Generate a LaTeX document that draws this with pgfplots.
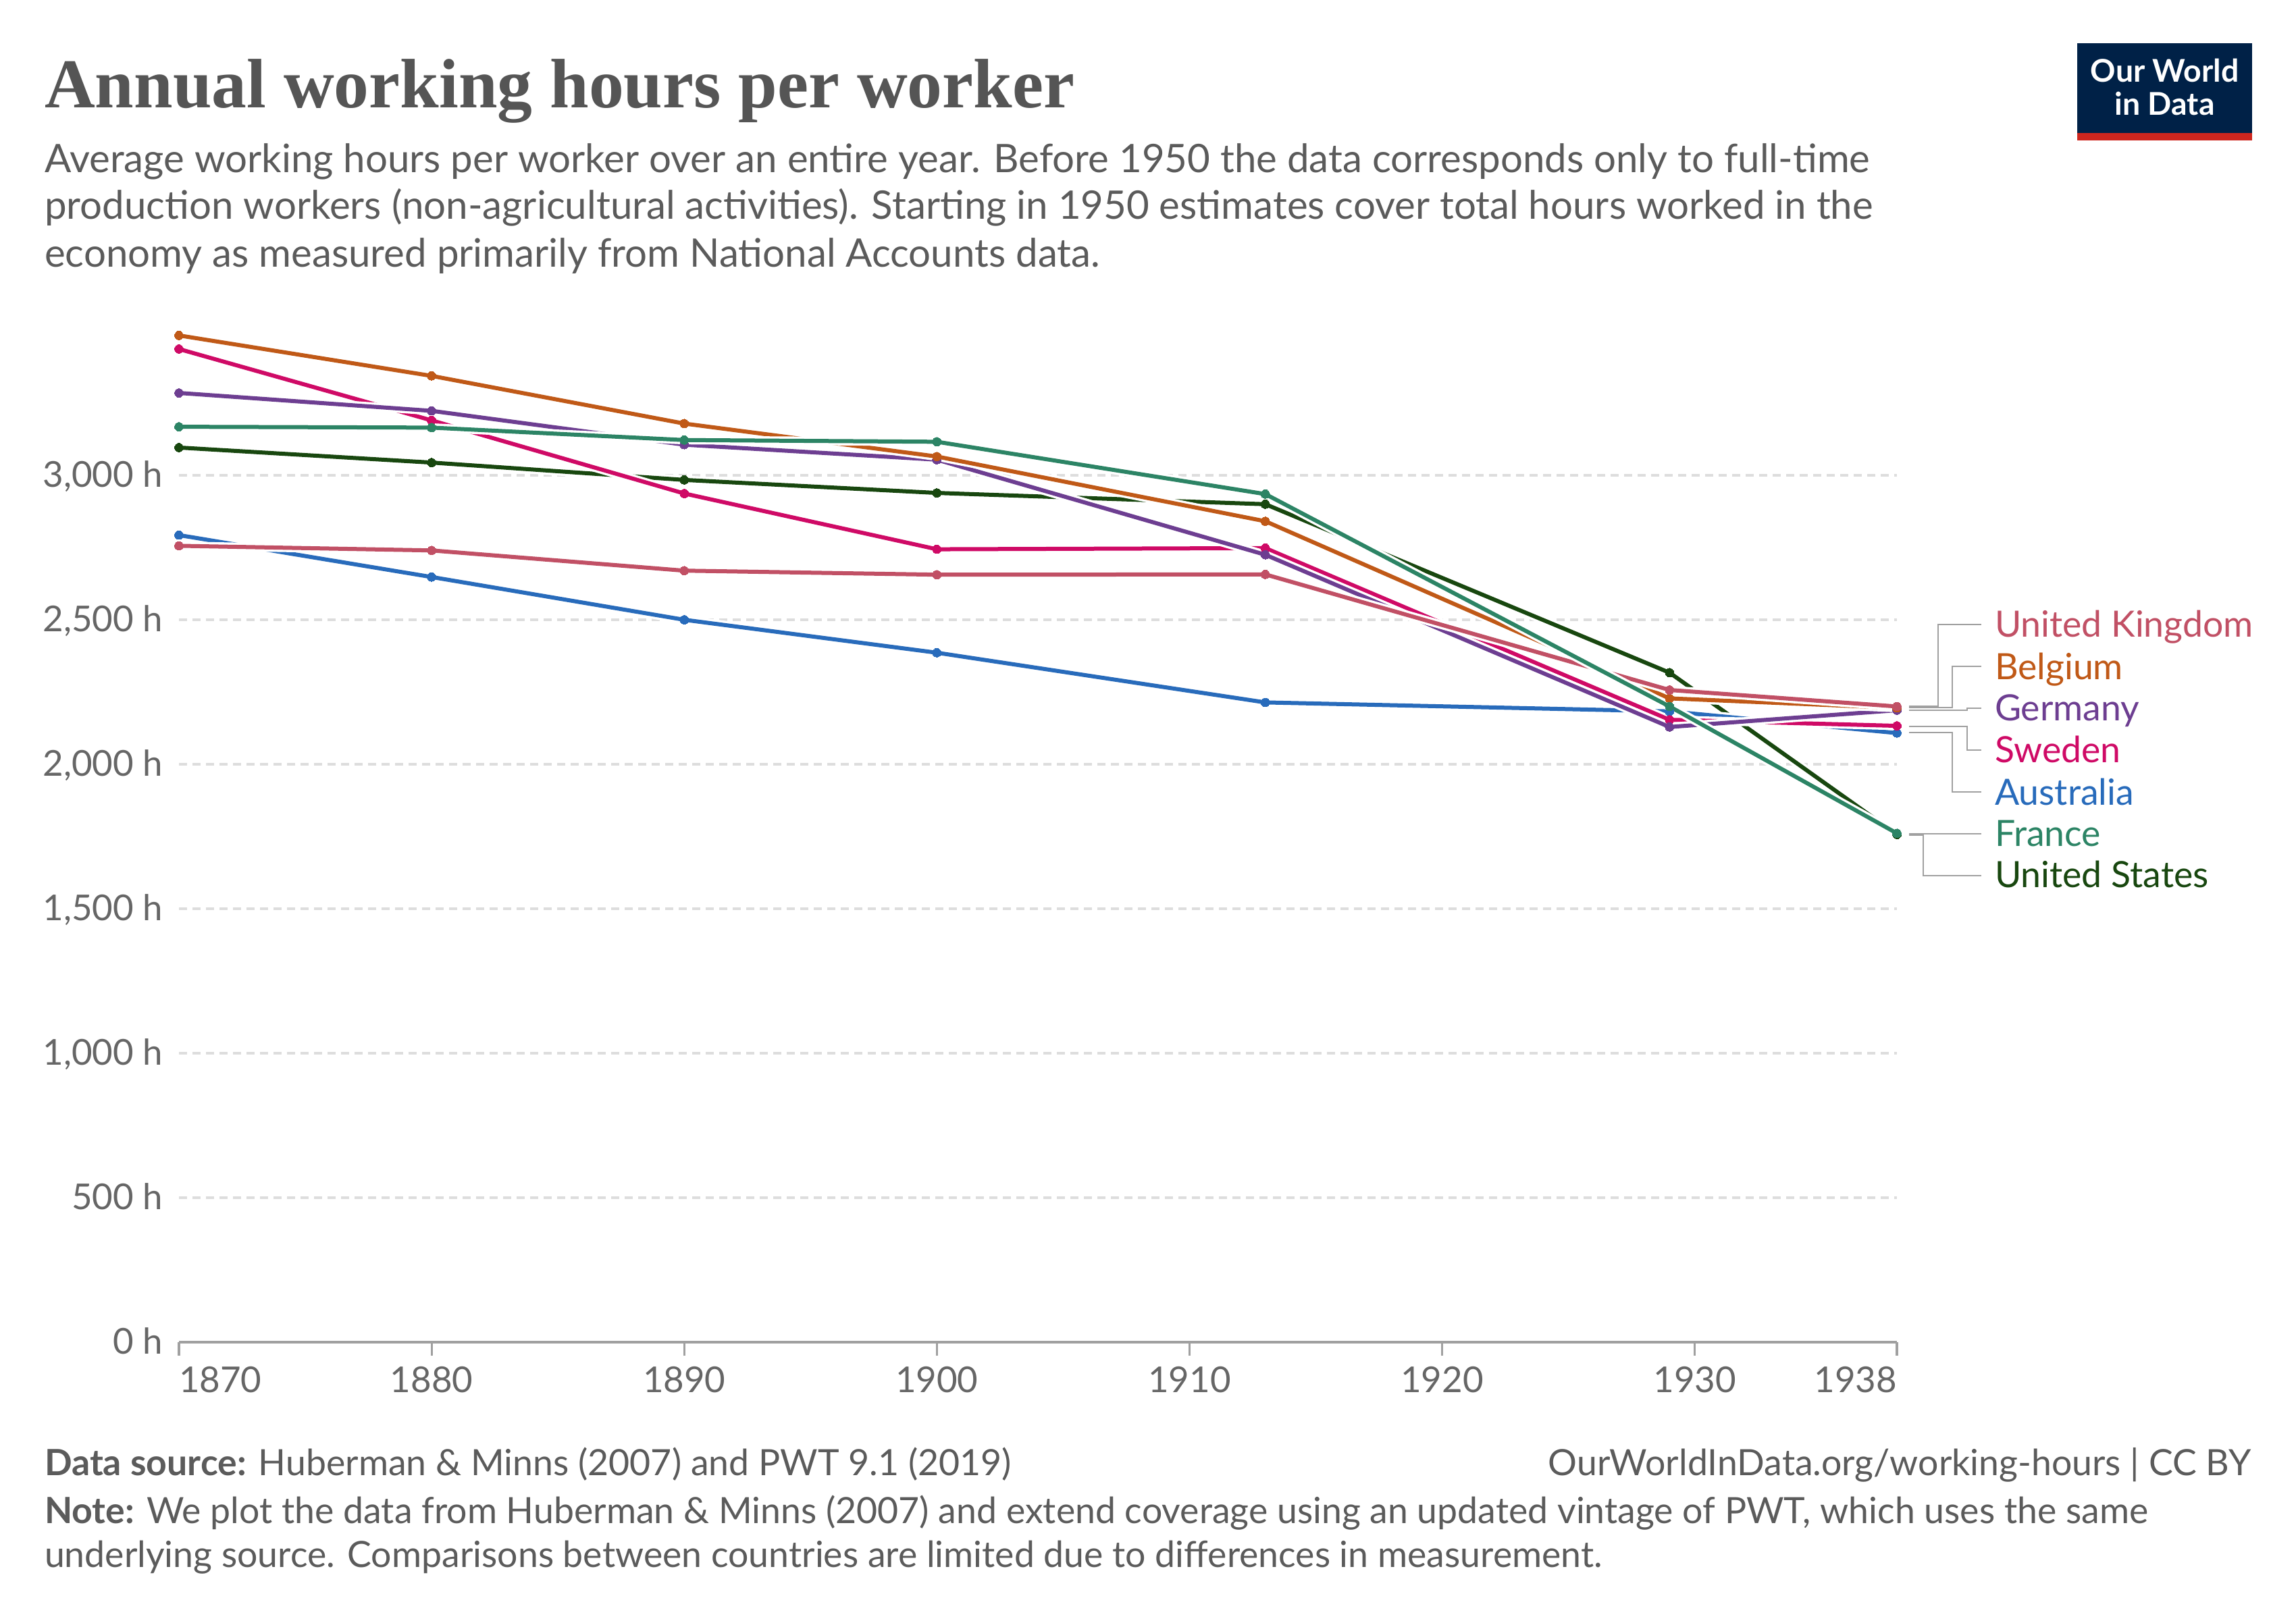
\documentclass[border=0pt]{standalone}
\usepackage{pgfplots}
\pgfplotsset{compat=1.18}
\usepackage{fontspec}
\setmainfont{Lato}
\newfontfamily\titlefont{Liberation Serif}
\definecolor{titlegray}{HTML}{555555}
\definecolor{subgray}{HTML}{5B5B5B}
\definecolor{tickgray}{HTML}{666666}
\definecolor{axisgray}{HTML}{A0A0A0}
\definecolor{gridgray}{HTML}{DDDDDD}
\definecolor{conngray}{HTML}{A0A0A0}
\definecolor{owidblue}{HTML}{002147}
\definecolor{owidred}{HTML}{CE261E}
\definecolor{ukcol}{HTML}{C15065}
\definecolor{becol}{HTML}{C05917}
\definecolor{decol}{HTML}{6D3E91}
\definecolor{secol}{HTML}{CF0A66}
\definecolor{aucol}{HTML}{286BBB}
\definecolor{frcol}{HTML}{2C8465}
\definecolor{uscol}{HTML}{18470F}
\pgfplotsset{
  series/.style={color=#1, line width=1.5pt, mark=*, mark size=1.6pt,
    mark options={solid, fill=#1, draw=#1, line width=0pt},
    preaction={draw=white, line width=3.2pt}},
}
\begin{document}
\begin{tikzpicture}[x=1pt,y=1pt]
\path[use as bounding box, fill=white] (0,0) rectangle (850,600);
% title
\node[anchor=base west, inner sep=0pt, text=titlegray, font=\titlefont\bfseries\fontsize{25.9}{30}\selectfont] at (16.3,560.2) {Annual working hours per worker};
% subtitle
\begin{scope}[every node/.style={anchor=base west, inner sep=0pt, text=subgray, font=\fontsize{14.55}{17.5}\selectfont}]
\node at (16.3,536.2) {Average working hours per worker over an entire year. Before 1950 the data corresponds only to full-time};
\node at (16.3,518.8) {production workers (non-agricultural activities). Starting in 1950 estimates cover total hours worked in the};
\node at (16.3,501.2) {economy as measured primarily from National Accounts data.};
\end{scope}
% logo
\fill[owidblue] (769,550.85) rectangle (833.75,584);
\fill[owidred] (769,548.1) rectangle (833.75,550.85);
\node[anchor=base, inner sep=0pt, text=white, font=\bfseries\fontsize{11.6}{13}\selectfont] at (801.4,569.6) {Our World};
\node[anchor=base, inner sep=0pt, text=white, font=\bfseries\fontsize{11.6}{13}\selectfont] at (801.4,557.3) {in Data};
% axis
\begin{axis}[
  at={(66.25pt,103pt)}, anchor=south west,
  scale only axis, width=636pt, height=374.5pt,
  xmin=1870, xmax=1938, ymin=0, ymax=3500,
  clip=false,
  axis line style={draw=none},
  tick align=outside, major tick length=5pt,
  xtick pos=bottom, ytick pos=left,
  xtick={1870,1880,1890,1900,1910,1920,1930,1938},
  xticklabels={\rlap{1870},1880,1890,1900,1910,1920,1930,\llap{1938}},
  ytick={0,500,1000,1500,2000,2500,3000},
  yticklabels={0 h,500 h,{1,000 h},{1,500 h},{2,000 h},{2,500 h},{3,000 h}},
  x tick style={draw=axisgray, line width=0.8pt},
  y tick style={draw=none},
  tick label style={font=\fontsize{13.2}{15}\selectfont, text=tickgray, inner sep=0pt},
  xticklabel style={anchor=base, yshift=-13.55pt},
  yticklabel style={anchor=base east, xshift=-0.75pt, yshift=-4.3pt},
  ymajorgrids, grid style={draw=gridgray, line width=0.8pt, dash pattern=on 3pt off 2pt},
]
\draw[axisgray, line width=0.8pt] (axis cs:1870,0) -- (axis cs:1938,0);
\addplot[series=uscol] coordinates {(1870,3096) (1880,3044) (1890,2984) (1900,2939) (1913,2900) (1929,2317) (1938,1757)};
\addplot[series=aucol] coordinates {(1870,2793) (1880,2648) (1890,2500) (1900,2386) (1913,2214) (1929,2183) (1938,2108)};
\addplot[series=secol] coordinates {(1870,3437) (1880,3190) (1890,2937) (1900,2744) (1913,2748) (1929,2154) (1938,2133)};
\addplot[series=decol] coordinates {(1870,3285) (1880,3223) (1890,3106) (1900,3054) (1913,2725) (1929,2129) (1938,2187)};
\addplot[series=becol] coordinates {(1870,3484) (1880,3344) (1890,3179) (1900,3065) (1913,2841) (1929,2228) (1938,2195)};
\addplot[series=ukcol] coordinates {(1870,2756) (1880,2740) (1890,2670) (1900,2656) (1913,2657) (1929,2257) (1938,2200)};
\addplot[series=frcol] coordinates {(1870,3168) (1880,3165) (1890,3122) (1900,3116) (1913,2935) (1929,2200) (1938,1761)};
\end{axis}
% connectors
\begin{scope}[conngray, line width=0.5pt]
\draw (706.7,338.6) -- (717.4,338.6) -- (717.4,368.75) -- (733.5,368.75);
\draw (706.7,338.1) -- (722.8,338.1) -- (722.8,353.25) -- (733.5,353.25);
\draw (706.7,337.1) -- (728.2,337.1) -- (728.2,337.75) -- (733.5,337.75);
\draw (706.7,331.0) -- (728.2,331.0) -- (728.2,322.3) -- (733.5,322.3);
\draw (706.7,328.75) -- (722.8,328.75) -- (722.8,306.7) -- (733.5,306.7);
\draw (706.7,291.2) -- (733.5,291.2);
\draw (706.7,290.8) -- (712,290.8) -- (712,275.8) -- (733.5,275.8);
\end{scope}
% series labels
\begin{scope}[every node/.style={anchor=base west, inner sep=0pt, font=\fontsize{13.4}{15}\selectfont}]
\node[text=ukcol] at (738.3,364) {United Kingdom};
\node[text=becol] at (738.3,348.3) {Belgium};
\node[text=decol] at (738.3,333.1) {Germany};
\node[text=secol] at (738.3,317.5) {Sweden};
\node[text=aucol] at (738.3,301.9) {Australia};
\node[text=frcol] at (738.3,286.5) {France};
\node[text=uscol] at (738.3,271.25) {United States};
\end{scope}
% footer
\begin{scope}[every node/.style={inner sep=0pt, text=subgray, font=\fontsize{13.4}{16}\selectfont}]
\node[anchor=base west] at (16.3,53.75) {\textbf{Data source:} Huberman \& Minns (2007) and PWT 9.1 (2019)};
\node[anchor=base east] at (833.5,53.75) {OurWorldInData.org/working-hours | CC BY};
\node[anchor=base west] at (16.3,35.8) {\textbf{Note:} We plot the data from Huberman \& Minns (2007) and extend coverage using an updated vintage of PWT, which uses the same};
\node[anchor=base west] at (16.3,19.6) {underlying source. Comparisons between countries are limited due to differences in measurement.};
\end{scope}
\end{tikzpicture}
\end{document}
